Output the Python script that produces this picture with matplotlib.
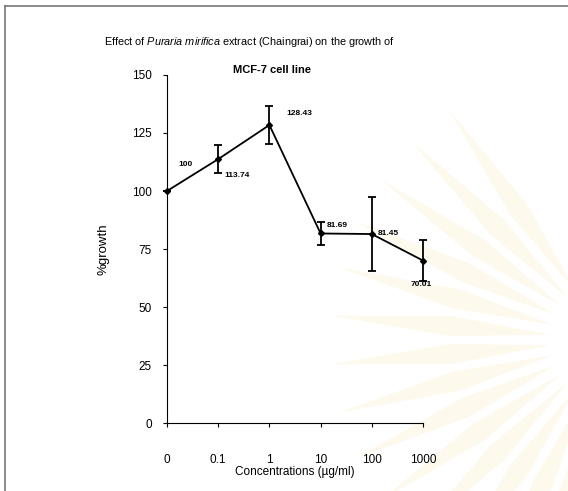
import matplotlib
matplotlib.use("Agg")
import matplotlib.pyplot as plt
from matplotlib.lines import Line2D
from matplotlib.patches import Polygon
import numpy as np

plt.rcParams["font.family"] = ["Liberation Sans", "DejaVu Sans"]
plt.rcParams["mathtext.fontset"] = "custom"
plt.rcParams["mathtext.rm"] = "Liberation Sans"
plt.rcParams["mathtext.it"] = "Liberation Sans:italic"

# MCF-7 growth vs extract concentration
conc_labels = ["0", "0.1", "1", "10", "100", "1000"]
growth = [100, 113.74, 128.43, 81.69, 81.45, 70.01]
growth_sd = [0, 6, 8, 5, 16, 9]
value_labels = ["100", "113.74", "128.43", "81.69", "81.45", "70.01"]

fig = plt.figure(figsize=(5.68, 4.91), dpi=100)

# faint seal in the lower right corner, page coordinates in pixels
bg = fig.add_axes([0, 0, 1, 1], zorder=0)
bg.set_xlim(0, 568)
bg.set_ylim(491, 0)
bg.axis("off")
cx, cy = 610, 340
for ang in np.arange(105, 240, 10):
    a = np.deg2rad(ang)
    w = np.deg2rad(3.6)
    r0, rm, r1 = 60, 160, 280
    pts = [(cx + r0 * np.cos(a), cy + r0 * np.sin(a)),
           (cx + rm * np.cos(a - w), cy + rm * np.sin(a - w)),
           (cx + r1 * np.cos(a), cy + r1 * np.sin(a)),
           (cx + rm * np.cos(a + w), cy + rm * np.sin(a + w))]
    bg.add_patch(Polygon(pts, closed=True, fc="#fdf9ec", ec="none"))

# page frame
fig.add_artist(Line2D([5 / 568, 1], [1 - 6 / 491, 1 - 6 / 491],
                      transform=fig.transFigure, color="#777777", lw=1.2))
fig.add_artist(Line2D([5 / 568, 5 / 568], [0, 1 - 6 / 491],
                      transform=fig.transFigure, color="#777777", lw=1.2))

ax = fig.add_axes([167 / 568, 1 - 423 / 491, 256 / 568, 348 / 491], zorder=1)
ax.patch.set_alpha(0)
x = np.arange(len(conc_labels))
ax.errorbar(x, growth, yerr=growth_sd, color="black", lw=1.3, marker="D",
            ms=3, capsize=3, elinewidth=1.3, capthick=1.3, clip_on=False)

offsets = [(11, 26), (6, -16), (17, 12), (6, 8), (6, 1), (-2, -24)]
for i, (lab, off) in enumerate(zip(value_labels, offsets)):
    ha = "center" if i == 5 else "left"
    ax.annotate(lab, (x[i], growth[i]), xytext=off, textcoords="offset pixels",
                fontsize=6, fontweight="bold", ha=ha, va="center")

ax.set_xlim(0, 5)
ax.set_ylim(0, 150)
ax.set_xticks(x)
ax.set_xticklabels(conc_labels, fontsize=8.5)
ax.set_yticks(np.arange(0, 151, 25))
ax.tick_params(axis="y", labelsize=8.5, length=3, pad=8)
ax.tick_params(axis="x", length=3, pad=19)
ax.spines["top"].set_visible(False)
ax.spines["right"].set_visible(False)
ax.set_xlabel("Concentrations (\u00b5g/ml)", fontsize=8.5, labelpad=0)
ax.set_ylabel("%growth", fontsize=9.5, labelpad=16)

fig.text(250 / 568, 1 - 42 / 491,
         r"Effect of $Puraria\ mirifica$ extract (Chaingrai) on the growth of",
         fontsize=7.8, ha="center", va="center")
fig.text(272 / 568, 1 - 70 / 491, "MCF-7 cell line", fontsize=8,
         fontweight="bold", ha="center", va="center")

fig.savefig("out.png", dpi=100)
